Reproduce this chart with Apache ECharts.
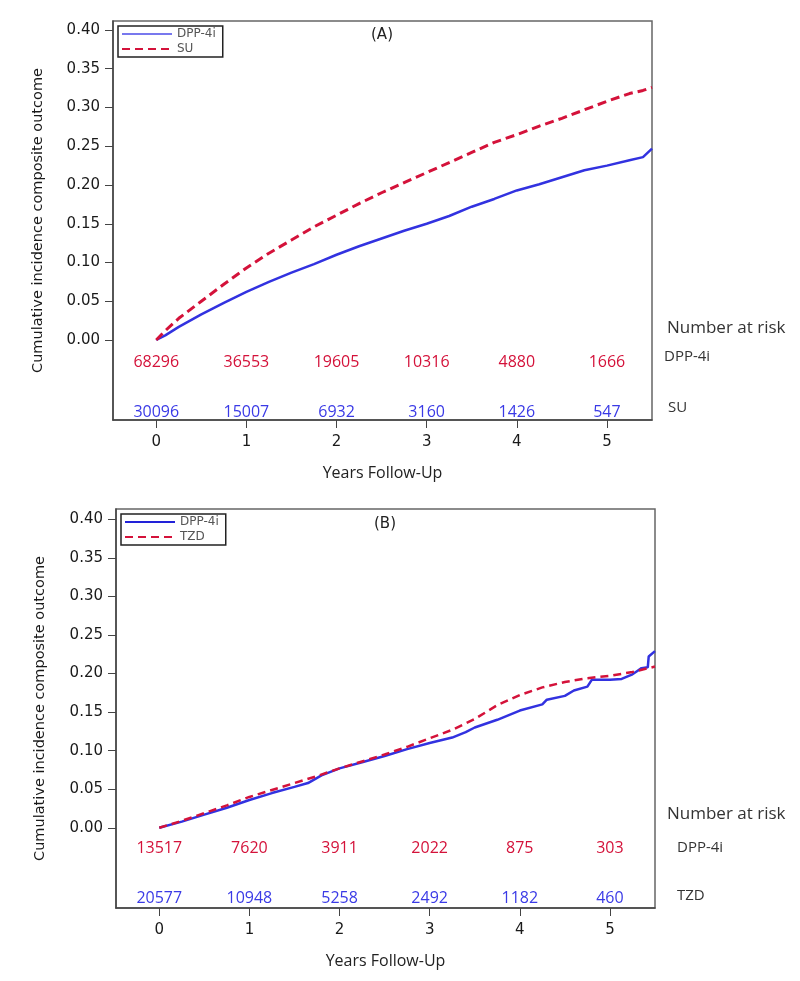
<!DOCTYPE html>
<html>
<head>
<meta charset="utf-8">
<script src="https://cdn.jsdelivr.net/npm/echarts@6/dist/echarts.min.js"></script>
<style>
  html, body { margin: 0; padding: 0; background: #fff; }
  #chart { width: 800px; height: 981px; }
</style>
</head>
<body>
<div id="chart"></div>
<script>
// ---- data ----
var xTicks = [0, 1, 2, 3, 4, 5];
var yTicks = [0, 0.05, 0.10, 0.15, 0.20, 0.25, 0.30, 0.35, 0.40];

// panel A: DPP-4i vs SU
var yearsA = [0, 0.1, 0.25, 0.5, 0.75, 1, 1.25, 1.5, 1.75, 2, 2.25, 2.5, 2.75, 3, 3.25, 3.5, 3.75, 4, 4.25, 4.5, 4.75, 5, 5.25, 5.4, 5.5];
var dppA = [0, 0.006, 0.017, 0.033, 0.048, 0.062, 0.075, 0.087, 0.098, 0.110, 0.121, 0.131, 0.141, 0.150, 0.160, 0.172, 0.182, 0.193, 0.201, 0.210, 0.219, 0.225, 0.232, 0.236, 0.247];
var suA = [0, 0.012, 0.028, 0.050, 0.072, 0.093, 0.112, 0.129, 0.146, 0.161, 0.176, 0.190, 0.203, 0.216, 0.229, 0.242, 0.255, 0.265, 0.276, 0.286, 0.297, 0.308, 0.318, 0.322, 0.326];

// panel B: DPP-4i vs TZD
var yearsBdpp = [0, 0.25, 0.5, 0.75, 1, 1.25, 1.5, 1.65, 1.8, 2, 2.25, 2.5, 2.75, 3, 3.25, 3.4, 3.5, 3.75, 4, 4.25, 4.3, 4.5, 4.6, 4.75, 4.8, 5.0, 5.13, 5.25, 5.3, 5.35, 5.42, 5.43, 5.5];
var dppB = [0, 0.008, 0.017, 0.026, 0.036, 0.045, 0.053, 0.058, 0.068, 0.077, 0.085, 0.093, 0.102, 0.110, 0.117, 0.124, 0.130, 0.140, 0.152, 0.160, 0.166, 0.171, 0.178, 0.183, 0.192, 0.192, 0.193, 0.199, 0.203, 0.207, 0.208, 0.222, 0.229];
var yearsBtzd = [0, 0.25, 0.5, 0.75, 1, 1.25, 1.5, 1.75, 2, 2.25, 2.5, 2.75, 3, 3.25, 3.5, 3.75, 4, 4.25, 4.5, 4.75, 5, 5.25, 5.5];
var tzdB = [0, 0.009, 0.019, 0.029, 0.040, 0.049, 0.058, 0.067, 0.077, 0.086, 0.095, 0.105, 0.116, 0.127, 0.141, 0.159, 0.172, 0.182, 0.189, 0.194, 0.197, 0.202, 0.209];

// number at risk
var riskYears = [0, 1, 2, 3, 4, 5];
var riskAdpp = [68296, 36553, 19605, 10316, 4880, 1666];
var riskAsu = [30096, 15007, 6932, 3160, 1426, 547];
var riskBdpp = [13517, 7620, 3911, 2022, 875, 303];
var riskBtzd = [20577, 10948, 5258, 2492, 1182, 460];

// ---- layout / styles ----
var RED = '#d4123a';
var BLUE = '#3232e0';
var NUM_BLUE = '#3a3ae6';
var AXIS = '#444';
var riskRowA = [-0.0284, -0.0929];
var riskRowB = [-0.0272, -0.0920];

function zip(xs, ys) {
    return xs.map(function (x, i) { return [x, ys[i]]; });
}

function riskSeries(idx, years, counts, rowY, color) {
    return {
        type: 'scatter',
        xAxisIndex: idx,
        yAxisIndex: idx,
        symbolSize: 0,
        silent: true,
        itemStyle: { opacity: 1 },
        data: years.map(function (x, i) { return [x, rowY, counts[i]]; }),
        label: {
            show: true,
            position: 'inside',
            formatter: function (p) { return String(p.value[2]); },
            color: color,
            opacity: 1,
            fontFamily: 'Open Sans',
            fontSize: 16
        }
    };
}

function xAxis(idx) {
    return {
        type: 'value',
        gridIndex: idx,
        min: -0.48,
        max: 5.5,
        name: 'Years Follow-Up',
        nameLocation: 'middle',
        nameGap: 45,
        nameTextStyle: { fontFamily: 'Open Sans', fontSize: 16, color: '#222' },
        axisLine: { show: true, onZero: false, lineStyle: { color: AXIS, width: 1.5 } },
        axisTick: { show: true, inside: false, length: 8, customValues: xTicks, lineStyle: { color: AXIS } },
        axisLabel: { customValues: xTicks, margin: 15, fontFamily: 'DejaVu Sans', fontSize: 15, color: '#1a1a1a' },
        splitLine: { show: false }
    };
}

function yAxis(idx, min, max, gap) {
    return {
        type: 'value',
        gridIndex: idx,
        min: min,
        max: max,
        name: 'Cumulative incidence composite outcome',
        nameLocation: 'middle',
        nameGap: gap,
        nameTextStyle: { fontFamily: 'DejaVu Sans', fontSize: 14.5, color: '#1a1a1a' },
        axisLine: { show: true, onZero: false, lineStyle: { color: AXIS, width: 1.5 } },
        axisTick: { show: true, inside: false, length: 8, customValues: yTicks, lineStyle: { color: AXIS } },
        axisLabel: {
            customValues: yTicks,
            margin: 13,
            fontFamily: 'DejaVu Sans',
            fontSize: 15,
            color: '#1a1a1a',
            formatter: function (v) { return v.toFixed(2); }
        },
        splitLine: { show: false }
    };
}

function legend(left, top, names, styles) {
    return {
        left: left,
        top: top,
        orient: 'vertical',
        selectedMode: false,
        itemWidth: 50,
        itemHeight: 12,
        itemGap: 3,
        padding: [2, 7, 2, 3],
        borderColor: '#222',
        borderWidth: 1.5,
        textStyle: { fontFamily: 'DejaVu Sans', fontSize: 12, color: '#555' },
        data: names.map(function (n, i) {
            return { name: n, lineStyle: styles[i], itemStyle: { opacity: 0 } };
        })
    };
}

function text(x, y, s, size) {
    return {
        type: 'text',
        x: x,
        y: y,
        style: { text: s, fill: '#333', font: size + 'px "Open Sans"', verticalAlign: 'middle' }
    };
}

var option = {
    backgroundColor: '#fff',
    animation: false,
    grid: [
        { left: 113, top: 21, width: 539, height: 399, show: true, borderColor: '#666', borderWidth: 1.5 },
        { left: 116, top: 509, width: 539, height: 399, show: true, borderColor: '#666', borderWidth: 1.5 }
    ],
    xAxis: [xAxis(0), xAxis(1)],
    yAxis: [yAxis(0, -0.1032, 0.4116, 67), yAxis(1, -0.104, 0.4133, 68)],
    legend: [
        legend(118, 26, ['DPP-4i', 'SU'], [
            { color: '#7878ee', width: 2, type: 'solid', opacity: 1 },
            { color: RED, width: 2, type: [8, 5], opacity: 1 }
        ]),
        legend(121, 514, ['DPP-4i', 'TZD'], [
            { color: '#2222d8', width: 2, type: 'solid', opacity: 1 },
            { color: RED, width: 2, type: [8, 5], opacity: 1 }
        ])
    ],
    graphic: [
        { type: 'text', x: 382, y: 35, style: { text: '(A)', fill: '#222', font: '15px "DejaVu Sans"', align: 'center', verticalAlign: 'middle' } },
        { type: 'text', x: 385, y: 524, style: { text: '(B)', fill: '#222', font: '15px "DejaVu Sans"', align: 'center', verticalAlign: 'middle' } },
        text(667, 328, 'Number at risk', 17),
        text(664, 357, 'DPP-4i', 15),
        text(668, 408, 'SU', 15),
        text(667, 814, 'Number at risk', 17),
        text(677, 848, 'DPP-4i', 15),
        text(677, 896, 'TZD', 15)
    ],
    series: [
        {
            name: 'DPP-4i', type: 'line', xAxisIndex: 0, yAxisIndex: 0,
            showSymbol: false, symbol: 'none', z: 3,
            lineStyle: { color: BLUE, width: 2.5 },
            itemStyle: { color: BLUE },
            data: zip(yearsA, dppA)
        },
        {
            name: 'SU', type: 'line', xAxisIndex: 0, yAxisIndex: 0,
            showSymbol: false, symbol: 'none', z: 4,
            lineStyle: { color: RED, width: 3, type: [9, 5] },
            itemStyle: { color: RED },
            data: zip(yearsA, suA)
        },
        riskSeries(0, riskYears, riskAdpp, riskRowA[0], RED),
        riskSeries(0, riskYears, riskAsu, riskRowA[1], NUM_BLUE),
        {
            name: 'DPP-4i', type: 'line', xAxisIndex: 1, yAxisIndex: 1,
            showSymbol: false, symbol: 'none', z: 3,
            lineStyle: { color: BLUE, width: 2.5 },
            itemStyle: { color: BLUE },
            data: zip(yearsBdpp, dppB)
        },
        {
            name: 'TZD', type: 'line', xAxisIndex: 1, yAxisIndex: 1,
            showSymbol: false, symbol: 'none', z: 4,
            lineStyle: { color: RED, width: 2.5, type: [8, 5] },
            itemStyle: { color: RED },
            data: zip(yearsBtzd, tzdB)
        },
        riskSeries(1, riskYears, riskBdpp, riskRowB[0], RED),
        riskSeries(1, riskYears, riskBtzd, riskRowB[1], NUM_BLUE)
    ]
};

var myChart = echarts.init(document.getElementById('chart'));
myChart.setOption(option);
</script>
</body>
</html>
